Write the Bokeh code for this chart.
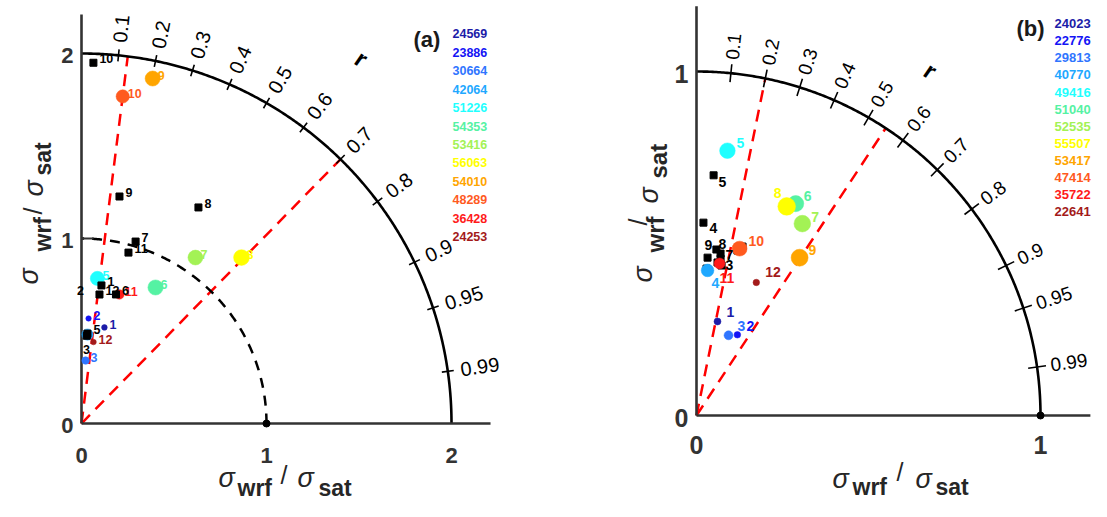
import numpy as np
from bokeh.plotting import figure
from bokeh.layouts import row
from bokeh.models import Range1d
from bokeh.core.properties import value
from bokeh.embed import file_html
from bokeh.resources import INLINE

FONT = value("Liberation Sans")
AXIS = "#333333"

# ---------------- shared ----------------
month_labels = ["1", "2", "3", "4", "5", "6", "7", "8", "9", "10", "11", "12"]
month_colors = ["#1c1ca8", "#1414f5", "#2f75ff", "#1fa8ff", "#1fffff", "#55f2a3",
                "#a3f255", "#ffff00", "#ffa500", "#ff5a1f", "#ff1a1a", "#a31a1a"]
corr_ticks = [0.1, 0.2, 0.3, 0.4, 0.5, 0.6, 0.7, 0.8, 0.9, 0.95, 0.99]
corr_tick_labels = ["0.1", "0.2", "0.3", "0.4", "0.5", "0.6", "0.7", "0.8", "0.9", "0.95", "0.99"]

# ---------------- panel (a) ----------------
a_counts = [24569, 23886, 30664, 42064, 51226, 54353, 53416, 56063, 54010, 48289, 36428, 24253]
a_circ_std = [0.534, 0.569, 0.341, 0.482, 0.789, 0.837, 1.088, 1.246, 1.904, 1.782, 0.727, 0.445]
a_circ_corr = [0.232, 0.067, 0.065, 0.067, 0.109, 0.478, 0.566, 0.694, 0.202, 0.125, 0.282, 0.146]
a_circ_labels = ["1", "2", "3", "", "5", "6", "7", "8", "9", "10", "11", "12"]
a_sq_std = [0.754, 0.699, 0.379, 0.475, 0.487, 0.722, 1.026, 1.328, 1.244, 1.951, 0.958, 0.704]
a_sq_corr = [0.143, -0.081, -0.064, 0.060, 0.066, 0.258, 0.285, 0.476, 0.165, 0.033, 0.265, 0.138]
a_sq_labels = ["1", "2", "3", "", "5", "6", "7", "8", "9", "10", "11", "12"]
a_ref_corr = [0.125, 0.70]

# ---------------- panel (b) ----------------
b_counts = [24023, 22776, 29813, 40770, 49416, 51040, 52535, 55507, 53417, 47414, 35722, 22641]
b_circ_std = [0.280, 0.263, 0.251, 0.423, 0.775, 0.680, 0.637, 0.662, 0.548, 0.501, 0.447, 0.424]
b_circ_corr = [0.218, 0.452, 0.371, 0.076, 0.116, 0.424, 0.483, 0.396, 0.547, 0.250, 0.150, 0.410]
b_circ_labels = ["1", "2", "3", "4", "5", "6", "7", "8", "9", "10", "11", "12"]
b_sq_std = [0.494, 0.449, 0.461, 0.561, 0.700, 0.509, 0.476, 0.486, 0.460, 0.423, 0.442, 0.428]
b_sq_corr = [0.241, 0.136, 0.152, 0.036, 0.071, 0.263, 0.147, 0.119, 0.070, 0.082, 0.165, 0.068]
b_sq_labels = ["", "", "3", "4", "5", "", "7", "8", "9", "", "", ""]
b_ref_corr = [0.20, 0.55]


def to_xy(std, corr):
    s = np.asarray(std, float)
    c = np.asarray(corr, float)
    return s * c, s * np.sqrt(1 - c ** 2)


def base_fig(width, height, xr, yr):
    p = figure(width=width, height=height, x_range=Range1d(*xr), y_range=Range1d(*yr),
               output_backend="svg", toolbar_location=None,
               x_axis_location=None, y_axis_location=None, min_border=0)
    p.grid.grid_line_color = None
    p.outline_line_color = None
    p.background_fill_color = "white"
    return p


def draw_frame(p, R, ppu, ax_x, ax_y, tick_half_px, lab_r, lab_font):
    th = np.linspace(0, np.pi / 2, 300)
    p.line(R * np.cos(th), R * np.sin(th), line_color="black", line_width=2.6)
    t = np.arccos(corr_ticks)
    d = tick_half_px / ppu
    p.segment(x0=(R - d) * np.cos(t), y0=(R - d) * np.sin(t),
              x1=(R + d) * np.cos(t), y1=(R + d) * np.sin(t),
              line_color="black", line_width=1.6)
    p.text(x=lab_r * R * np.cos(t), y=lab_r * R * np.sin(t), text=corr_tick_labels,
           angle=t, text_align="left", text_baseline="middle", text_font=FONT,
           text_font_size=lab_font, text_color="black")
    p.line([0, ax_x], [0, 0], line_color=AXIS, line_width=2.6)
    p.line([0, 0], [0, ax_y], line_color=AXIS, line_width=2.6)


def draw_ref_lines(p, R, corrs):
    c = np.asarray(corrs, float)
    xs = [[0, R * ci] for ci in c]
    ys = [[0, R * np.sqrt(1 - ci ** 2)] for ci in c]
    p.multi_line(xs=xs, ys=ys, line_color="red", line_width=2.5, line_dash="12 8")


def add_pieces(p, tf, pieces, angle=0.0):
    for txt, px, py, size, style in pieces:
        x, y = tf(px, py)
        p.text(x=[x], y=[y], text=[txt], angle=angle, text_align="left",
               text_baseline="middle", text_font=FONT, text_font_size=size,
               text_font_style=style, text_color="#262626")


H = 501  # page height available inside the 8px margins

# =============== Panel (a) ===============
def tfa(px, py):
    return (px - 81) / 185.0, (423 - py) / 185.0


pa = base_fig(560, H, (-81 / 185.0, 479 / 185.0), ((423 - H) / 185.0, 423 / 185.0))
draw_ref_lines(pa, 2.0, a_ref_corr)
th = np.linspace(0, np.pi / 2, 200)
pa.line(np.cos(th), np.sin(th), line_color="black", line_width=2.5, line_dash="10 8")
draw_frame(pa, 2.0, 185.0, 2.211, 2.211, 6, 1.035, "20px")
pa.segment(x0=[0], y0=[1], x1=[0.065], y1=[1], line_color=AXIS, line_width=2.2)
pa.scatter([1], [0], size=7, color="black")

ax, ay = to_xy(a_circ_std, a_circ_corr)
a_sizes = [5.5 + (n - 24000) * 0.00032 for n in a_counts]
pa.scatter(ax, ay, size=a_sizes, fill_color=month_colors, line_color=month_colors,
           line_width=0.5)
sx, sy = to_xy(a_sq_std, a_sq_corr)
vis = sx >= 0  # markers outside the axis limits are clipped (labels are not)
pa.scatter(sx[vis], sy[vis], marker="square", size=7, color="black")
pa.text(ax, ay, text=a_circ_labels, x_offset=5, y_offset=-3, text_align="left",
        text_baseline="middle", text_font=FONT, text_font_size="12.5px",
        text_font_style="bold", text_color=month_colors)
pa.text(sx, sy, text=a_sq_labels, x_offset=6, y_offset=-4, text_align="left",
        text_baseline="middle", text_font=FONT, text_font_size="12.5px",
        text_font_style="bold", text_color="black")

# axis numbers
pa.text([0, 1, 2], [0, 0, 0], text=["0", "1", "2"], y_offset=32, text_align="center",
        text_baseline="middle", text_font=FONT, text_font_size="22px",
        text_font_style="bold", text_color=AXIS)
pa.text([0, 0, 0], [0, 1, 2], text=["0", "1", "2"], x_offset=-8, y_offset=2,
        text_align="right", text_baseline="middle", text_font=FONT,
        text_font_size="22px", text_font_style="bold", text_color=AXIS)

add_pieces(pa, tfa, [("σ", 218, 477, "27px", "italic"), ("wrf", 237, 487, "23px", "bold"),
                     ("/", 280, 474, "25px", "normal"), ("σ", 297, 477, "27px", "italic"),
                     ("sat", 318, 487, "23px", "bold")])
add_pieces(pa, tfa, [("σ", 28, 284, "27px", "italic"), ("wrf", 42, 251, "23px", "bold"),
                     ("/", 32, 214, "25px", "normal"), ("σ", 33, 196, "27px", "italic"),
                     ("sat", 42, 175, "23px", "bold")], angle=np.pi / 2)

lx, ly = tfa(413, 39)
pa.text([lx], [ly], text=["(a)"], text_align="left", text_baseline="middle", text_font=FONT,
        text_font_size="22px", text_font_style="bold", text_color="#1a1a1a")
rx, ry = tfa(361, 58)
pa.text([rx], [ry], text=["r"], angle=-0.6, text_align="center", text_baseline="middle",
        text_font=FONT, text_font_size="24px", text_font_style="bold", text_color="black")
leg_y = [tfa(452, 33.3 + 18.45 * i)[1] for i in range(12)]
pa.text([tfa(452, 0)[0]] * 12, leg_y, text=[str(n) for n in a_counts], text_align="left",
        text_baseline="middle", text_font=FONT, text_font_size="12.5px",
        text_font_style="bold", text_color=month_colors)


# =============== Panel (b) ===============
def tfb(px, py):
    return (px - 696) / 344.0, (415 - py) / 344.0


pb = base_fig(531, H, (-136 / 344.0, 395 / 344.0), ((415 - H) / 344.0, 415 / 344.0))
draw_ref_lines(pb, 1.0, b_ref_corr)
draw_frame(pb, 1.0, 344.0, 1.145, 1.19, 9, 1.04, "19px")
pb.scatter([1], [0], size=7, color="black")

bsx, bsy = to_xy(b_sq_std, b_sq_corr)
pb.scatter(bsx, bsy, marker="square", size=7, color="black")
bx, by = to_xy(b_circ_std, b_circ_corr)
b_sizes = [6.5 + (n - 22600) * 0.00034 for n in b_counts]
pb.scatter(bx, by, size=b_sizes, fill_color=month_colors, line_color=month_colors,
           line_width=0.5)

b_circ_xoff = [9, 9, 9, 4, 9, 8, 9, -13, 9, 9, 0, 9]
b_circ_yoff = [-9, -9, -9, 13, -8, -8, -7, -13, -8, -8, 15, -10]
pb.text(bx, by, text=b_circ_labels, x_offset=b_circ_xoff, y_offset=b_circ_yoff,
        text_align="left", text_baseline="middle", text_font=FONT, text_font_size="14px",
        text_font_style="bold", text_color=month_colors)
b_sq_xoff = [5, 5, 5, 6, 5, 5, 5, 2, -3, 5, 5, 5]
b_sq_yoff = [6, 6, 6, 5, 7, 6, 1, -6, -13, 6, 6, 6]
pb.text(bsx, bsy, text=b_sq_labels, x_offset=b_sq_xoff, y_offset=b_sq_yoff,
        text_align="left", text_baseline="middle", text_font=FONT, text_font_size="14px",
        text_font_style="bold", text_color="black")

pb.text([0, 1], [0, 0], text=["0", "1"], y_offset=29, text_align="center",
        text_baseline="middle", text_font=FONT, text_font_size="25px",
        text_font_style="bold", text_color=AXIS)
pb.text([0, 0], [0, 1], text=["0", "1"], x_offset=-8, y_offset=2, text_align="right",
        text_baseline="middle", text_font=FONT, text_font_size="25px",
        text_font_style="bold", text_color=AXIS)

add_pieces(pb, tfb, [("σ", 832, 478, "27px", "italic"), ("wrf", 852, 486, "23px", "bold"),
                     ("/", 896, 471, "25px", "normal"), ("σ", 915, 478, "27px", "italic"),
                     ("sat", 935, 486, "23px", "bold")])
add_pieces(pb, tfb, [("σ", 642, 282, "27px", "italic"), ("wrf", 655, 252, "24px", "bold"),
                     ("/", 637, 225, "25px", "normal"), ("σ", 648, 203, "27px", "italic"),
                     ("sat", 658, 178, "24px", "bold")], angle=np.pi / 2)

lx, ly = tfb(1016, 28)
pb.text([lx], [ly], text=["(b)"], text_align="left", text_baseline="middle", text_font=FONT,
        text_font_size="22px", text_font_style="bold", text_color="#1a1a1a")
rx, ry = tfb(930, 70)
pb.text([rx], [ry], text=["r"], angle=-0.6, text_align="center", text_baseline="middle",
        text_font=FONT, text_font_size="24px", text_font_style="bold", text_color="black")
leg_yb = [tfb(1054, 23.3 + 17.05 * i)[1] for i in range(12)]
pb.text([tfb(1054, 0)[0]] * 12, leg_yb, text=[str(n) for n in b_counts], text_align="left",
        text_baseline="middle", text_font=FONT, text_font_size="13px",
        text_font_style="bold", text_color=month_colors)

layout = row(pa, pb, spacing=0)
open("out.html", "w").write(file_html(layout, INLINE))
